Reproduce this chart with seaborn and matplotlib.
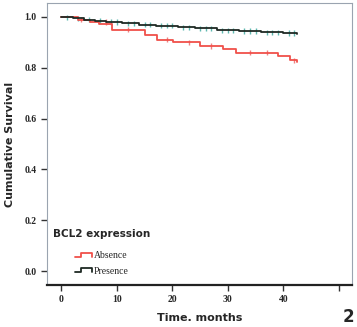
import pandas as pd
import matplotlib.pyplot as plt
import seaborn as sns

# step curves (time in months, cumulative survival)
absence_t = [0, 1.1, 2.9, 5.2, 6.7, 9.2, 15.1, 17.3, 20.2, 25.0, 29.2, 31.4, 39.1, 41.3, 42.5]
absence_s = [1.0, 1.0, 0.99, 0.98, 0.973, 0.95, 0.93, 0.91, 0.90, 0.886, 0.875, 0.86, 0.847, 0.83, 0.822]
presence_t = [0, 2, 4, 6, 8, 11, 14, 17, 21, 24, 28, 32, 36, 40, 42.5]
presence_s = [1.0, 0.995, 0.99, 0.985, 0.98, 0.975, 0.97, 0.965, 0.96, 0.955, 0.948, 0.945, 0.94, 0.937, 0.933]

# censor marks
absence_cens_t = [3.5, 8.0, 12.0, 19.0, 23.0, 27.0, 34.0, 37.0, 42.0]
absence_cens_s = [0.99, 0.98, 0.95, 0.91, 0.90, 0.886, 0.86, 0.86, 0.83]
presence_cens_t = [1, 3, 5, 7, 9, 10, 12, 13, 15, 16, 18, 19, 20, 22, 23, 25, 26, 27, 29, 30, 31,
                   33, 34, 35, 37, 38, 39, 41, 42]
presence_cens_s = [0.998, 0.995, 0.99, 0.985, 0.98, 0.98, 0.975, 0.975, 0.97, 0.97, 0.965, 0.965,
                   0.965, 0.96, 0.96, 0.955, 0.955, 0.955, 0.948, 0.948, 0.948, 0.945, 0.945, 0.945,
                   0.94, 0.94, 0.94, 0.937, 0.937]

curves = pd.concat([
    pd.DataFrame({'time': absence_t, 'surv': absence_s, 'BCL2': 'Absence'}),
    pd.DataFrame({'time': presence_t, 'surv': presence_s, 'BCL2': 'Presence'}),
])
cens = pd.concat([
    pd.DataFrame({'time': absence_cens_t, 'surv': absence_cens_s, 'BCL2': 'Absence'}),
    pd.DataFrame({'time': presence_cens_t, 'surv': presence_cens_s, 'BCL2': 'Presence'}),
])

sns.set_style('white')
fig = plt.figure(figsize=(3.57, 3.27), dpi=100)
ax = fig.add_axes([0.1317, 0.1284, 0.8543, 0.8624])

sns.lineplot(data=curves, x='time', y='surv', hue='BCL2', drawstyle='steps-post',
             palette={'Absence': '#f0504a', 'Presence': '#1f2a24'}, linewidth=1.3,
             legend=False, ax=ax)
sns.scatterplot(data=cens, x='time', y='surv', hue='BCL2', marker='|', s=14, linewidth=1,
                palette={'Absence': '#f08080', 'Presence': '#5fb8b0'}, legend=False, ax=ax)

ax.set_xlim(-2.6, 52.4)
ax.set_ylim(-0.055, 1.055)
ax.set_xticks([0, 10, 20, 30, 40, 50])
ax.set_xticklabels(['0', '10', '20', '30', '40', ''])
ax.set_yticks([0.0, 0.2, 0.4, 0.6, 0.8, 1.0])
ax.set_yticklabels(['0.0', '0.2', '0.4', '0.6', '0.8', '1.0'])
for lab in ax.get_xticklabels() + ax.get_yticklabels():
    lab.set_family('Liberation Serif')
    lab.set_fontweight('bold')
    lab.set_fontsize(7)
ax.tick_params(axis='both', length=4, width=1, color='#333333', direction='out')
ax.xaxis.set_tick_params(bottom=True)
ax.yaxis.set_tick_params(left=True)

for side in ['top', 'left', 'right']:
    ax.spines[side].set_color('#9aa4b0')
    ax.spines[side].set_linewidth(0.8)
ax.spines['bottom'].set_color('#222222')
ax.spines['bottom'].set_linewidth(1.6)

ax.set_xlabel('Time. months', fontsize=8, fontweight='bold', family='DejaVu Sans', labelpad=6)
ax.set_ylabel('Cumulative Survival', fontsize=8, fontweight='bold', family='DejaVu Sans', labelpad=7)

# legend drawn inside the axes like the original
ax.text(-1.5, 0.135, 'BCL2 expression', fontsize=7.5, fontweight='bold', family='DejaVu Sans')
ax.plot([2.5, 3.5, 3.5, 5.5, 5.5], [0.055, 0.055, 0.07, 0.07, 0.055], color='#f0504a', lw=1.3)
ax.plot([2.5, 3.5, 3.5, 5.5, 5.5], [-0.005, -0.005, 0.01, 0.01, -0.005], color='#1f2a24', lw=1.3)
ax.text(5.8, 0.05, 'Absence', fontsize=7, family='Liberation Serif')
ax.text(5.8, -0.01, 'Presence', fontsize=7, family='Liberation Serif')

fig.text(0.96, 0.015, '2', fontsize=12, fontweight='bold', family='DejaVu Sans')

fig.savefig('out.png', dpi=100)
